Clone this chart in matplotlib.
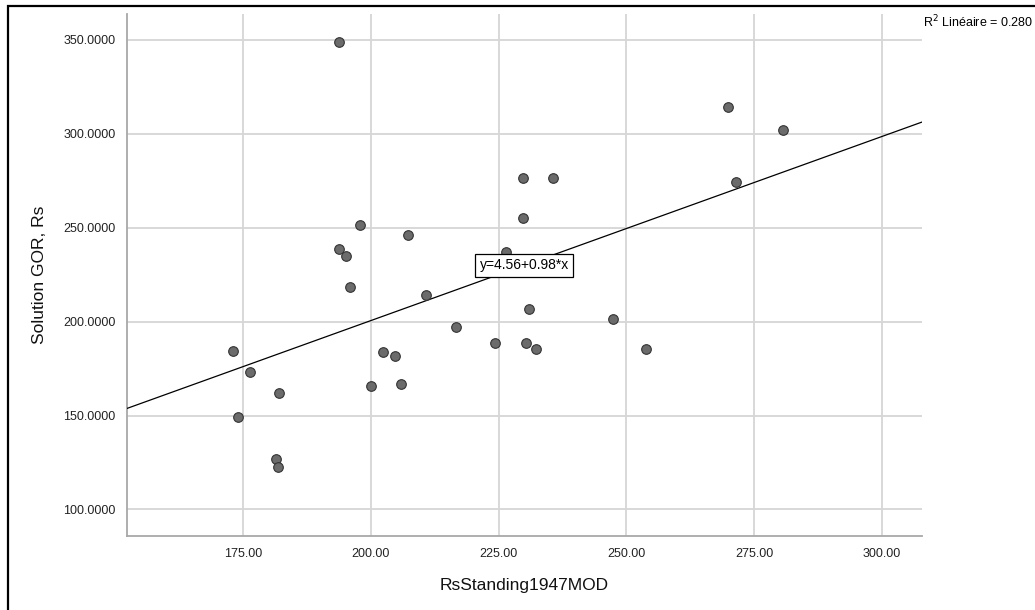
import numpy as np
import matplotlib
matplotlib.use("Agg")
import matplotlib.pyplot as plt
from matplotlib.patches import Rectangle

plt.rcParams['font.family'] = ['Liberation Sans', 'DejaVu Sans']

# RsStanding1947MOD vs Solution GOR
rs_standing = [193.7, 269.8, 280.7, 229.7, 235.7, 271.5, 229.8, 197.9, 193.7, 195.2,
               207.2, 226.4, 195.9, 210.8, 230.9, 216.7, 247.3, 173.0, 176.4, 202.3,
               204.8, 224.3, 230.3, 232.4, 253.9, 200.1, 205.9, 182.1, 173.9, 181.5,
               181.9]
rs_gor = [349.0, 314.3, 302.2, 276.7, 276.7, 274.5, 255.2, 251.2, 238.6, 234.8,
          246.0, 237.3, 218.6, 214.2, 206.8, 197.0, 201.4, 184.2, 173.2, 184.0,
          181.9, 188.5, 188.8, 185.5, 185.6, 165.6, 167.0, 162.0, 149.4, 127.1,
          122.8]

intercept = 4.56
slope = 0.98
r2 = 0.280

x_ticks = [175, 200, 225, 250, 275, 300]
y_ticks = [100, 150, 200, 250, 300, 350]
xlim = (152.2, 307.8)
ylim = (86.0, 363.8)

W, H = 1035, 610
fig = plt.figure(figsize=(W / 100, H / 100), dpi=100)
ax = fig.add_axes([126.7 / W, 1 - 535.7 / H, (921.7 - 126.7) / W, (535.7 - 14) / H])

ax.set_xlim(*xlim)
ax.set_ylim(*ylim)
ax.set_xticks(x_ticks)
ax.set_yticks(y_ticks)
ax.set_xticklabels(["%.2f" % v for v in x_ticks])
ax.set_yticklabels(["%.4f" % v for v in y_ticks])
ax.tick_params(length=0, labelsize=9, colors="#222222")
ax.tick_params(axis='y', pad=8)
ax.tick_params(axis='x', pad=9)
ax.grid(True, color="#d6d6d6", linewidth=1.3)
ax.set_axisbelow(True)
for s in ["top", "right"]:
    ax.spines[s].set_visible(False)
for s in ["left", "bottom"]:
    ax.spines[s].set_color("#a8a8a8")
    ax.spines[s].set_linewidth(1.3)

# fit line
xx = np.array(xlim)
ax.plot(xx, intercept + slope * xx, color="black", linewidth=0.9, zorder=3)

ax.scatter(rs_standing, rs_gor, s=48, facecolor="#6b6b6b", edgecolor="#333333",
           linewidth=0.8, zorder=4)

xc = 230
ax.text(xc, intercept + slope * xc, "y=4.56+0.98*x", fontsize=10, ha="center", va="center",
        zorder=5, bbox=dict(boxstyle="square,pad=0.3", facecolor="white",
                            edgecolor="black", linewidth=0.9))

ax.set_xlabel("RsStanding1947MOD", fontsize=12.5, labelpad=13, color="#111111")
ax.set_ylabel("Solution GOR, Rs", fontsize=12.5, labelpad=12, color="#111111")

fig.text(923 / W, 1 - 27 / H, "R$^2$ Linéaire = %.3f" % r2, fontsize=9, ha="left",
         va="baseline")

# outer frame
fig.patches.append(Rectangle((8 / W, -0.05), 1.1, 1 - 6 / H + 0.05,
                             transform=fig.transFigure, fill=False,
                             edgecolor="black", linewidth=1.6))

fig.savefig("out.png", dpi=100)
